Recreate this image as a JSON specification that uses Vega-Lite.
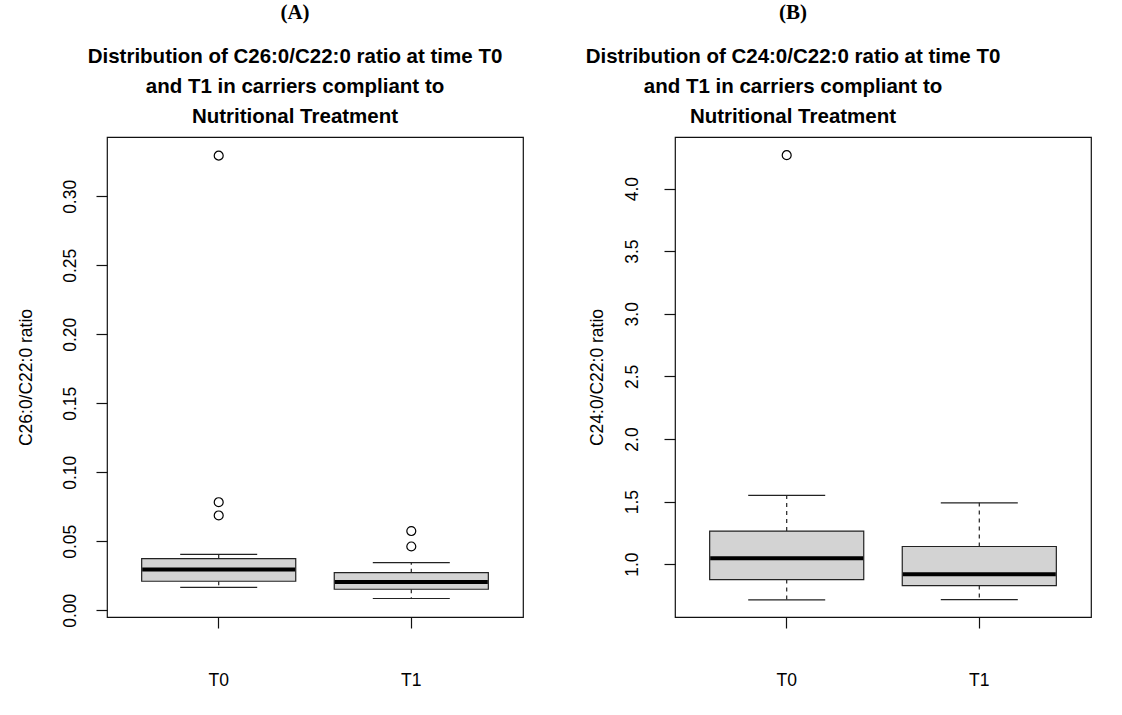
{
  "$schema": "https://vega.github.io/schema/vega-lite/v6.json",
  "background": "white",
  "padding": {"left": 16, "top": 0, "right": 5, "bottom": 5},
  "config": {
    "view": {"stroke": "#111", "strokeWidth": 1.2},
    "axis": {
      "labelFont": "Liberation Sans", "labelFontSize": 17.5, "labelColor": "black",
      "titleFont": "Liberation Sans", "titleFontSize": 17.5, "titleFontWeight": "normal", "titleColor": "black",
      "tickColor": "#111", "tickWidth": 1.2, "tickSize": 11, "domain": false, "grid": false
    }
  },
  "datasets": {
    "boxes": [
      {"panel": "A", "time": "T0", "lower": 0.0166, "q1": 0.021, "median": 0.0296, "q3": 0.0374, "upper": 0.0405},
      {"panel": "A", "time": "T1", "lower": 0.0085, "q1": 0.0152, "median": 0.0205, "q3": 0.0272, "upper": 0.0345},
      {"panel": "B", "time": "T0", "lower": 0.714, "q1": 0.877, "median": 1.048, "q3": 1.264, "upper": 1.549},
      {"panel": "B", "time": "T1", "lower": 0.717, "q1": 0.829, "median": 0.92, "q3": 1.141, "upper": 1.49}
    ],
    "outliers": [
      {"panel": "A", "time": "T0", "value": 0.3295},
      {"panel": "A", "time": "T0", "value": 0.0783},
      {"panel": "A", "time": "T0", "value": 0.0687},
      {"panel": "A", "time": "T1", "value": 0.0574},
      {"panel": "A", "time": "T1", "value": 0.0462},
      {"panel": "B", "time": "T0", "value": 4.267}
    ]
  },
  "spacing": 152,
  "bounds": "flush",
  "hconcat": [
    {
      "width": 416, "height": 480,
      "title": {
        "text": "(A)",
        "subtitle": ["Distribution of C26:0/C22:0 ratio at time T0", "and T1 in carriers compliant to", "Nutritional Treatment"],
        "font": "Liberation Serif", "fontSize": 21, "fontWeight": "bold", "color": "black",
        "subtitleFont": "Liberation Sans", "subtitleFontSize": 20.5, "subtitleFontWeight": "bold", "subtitleColor": "black",
        "subtitleLineHeight": 30, "subtitlePadding": 24, "offset": 10, "anchor": "middle", "dx": -20
      },
      "data": {"name": "boxes"},
      "transform": [{"filter": "datum.panel == 'A'"}],
      "encoding": {
        "x": {"field": "time", "type": "nominal", "title": null,
              "scale": {"paddingInner": 0.2, "paddingOuter": 0.18},
              "axis": {"labelAngle": 0, "labelPadding": 43}}
      },
      "layer": [
        {"mark": {"type": "rule", "strokeDash": [4, 4], "color": "#222", "strokeWidth": 1.2},
         "encoding": {"y": {"field": "q3", "type": "quantitative", "title": "C26:0/C22:0 ratio",
                            "scale": {"domain": [-0.0049, 0.343], "nice": false, "zero": false},
                            "axis": {"values": [0, 0.05, 0.1, 0.15, 0.2, 0.25, 0.3], "format": ".2f",
                                     "labelAngle": 270, "labelAlign": "center", "labelBaseline": "bottom",
                                     "labelPadding": 17, "titlePadding": 26}},
                      "y2": {"field": "upper"}}},
        {"mark": {"type": "rule", "strokeDash": [4, 4], "color": "#222", "strokeWidth": 1.2},
         "encoding": {"y": {"field": "q1", "type": "quantitative", "title": "C26:0/C22:0 ratio"}, "y2": {"field": "lower"}}},
        {"mark": {"type": "bar", "fill": "#D3D3D3", "stroke": "#222", "strokeWidth": 1.2},
         "encoding": {"y": {"field": "q1", "type": "quantitative", "title": "C26:0/C22:0 ratio"}, "y2": {"field": "q3"}}},
        {"mark": {"type": "tick", "size": 77, "thickness": 1.2, "color": "#222", "opacity": 1},
         "encoding": {"y": {"field": "upper", "type": "quantitative", "title": "C26:0/C22:0 ratio"}}},
        {"mark": {"type": "tick", "size": 77, "thickness": 1.2, "color": "#222", "opacity": 1},
         "encoding": {"y": {"field": "lower", "type": "quantitative", "title": "C26:0/C22:0 ratio"}}},
        {"mark": {"type": "tick", "size": 153, "thickness": 4, "color": "black", "opacity": 1},
         "encoding": {"y": {"field": "median", "type": "quantitative", "title": "C26:0/C22:0 ratio"}}},
        {"data": {"name": "outliers"},
         "transform": [{"filter": "datum.panel == 'A'"}],
         "mark": {"type": "point", "shape": "circle", "filled": false, "size": 80, "stroke": "black", "strokeWidth": 1.2, "opacity": 1},
         "encoding": {"y": {"field": "value", "type": "quantitative", "title": "C26:0/C22:0 ratio"}}}
      ]
    },
    {
      "width": 416, "height": 480,
      "title": {
        "text": "(B)",
        "subtitle": ["Distribution of C24:0/C22:0 ratio at time T0", "and T1 in carriers compliant to", "Nutritional Treatment"],
        "font": "Liberation Serif", "fontSize": 21, "fontWeight": "bold", "color": "black",
        "subtitleFont": "Liberation Sans", "subtitleFontSize": 20.5, "subtitleFontWeight": "bold", "subtitleColor": "black",
        "subtitleLineHeight": 30, "subtitlePadding": 24, "offset": 10, "anchor": "middle", "dx": -90
      },
      "data": {"name": "boxes"},
      "transform": [{"filter": "datum.panel == 'B'"}],
      "encoding": {
        "x": {"field": "time", "type": "nominal", "title": null,
              "scale": {"paddingInner": 0.2, "paddingOuter": 0.18},
              "axis": {"labelAngle": 0, "labelPadding": 43}}
      },
      "layer": [
        {"mark": {"type": "rule", "strokeDash": [4, 4], "color": "#222", "strokeWidth": 1.2},
         "encoding": {"y": {"field": "q3", "type": "quantitative", "title": "C24:0/C22:0 ratio",
                            "scale": {"domain": [0.578, 4.412], "nice": false, "zero": false},
                            "axis": {"values": [1, 1.5, 2, 2.5, 3, 3.5, 4], "format": ".1f",
                                     "labelAngle": 270, "labelAlign": "center", "labelBaseline": "bottom",
                                     "labelPadding": 23, "titlePadding": 17}},
                      "y2": {"field": "upper"}}},
        {"mark": {"type": "rule", "strokeDash": [4, 4], "color": "#222", "strokeWidth": 1.2},
         "encoding": {"y": {"field": "q1", "type": "quantitative", "title": "C24:0/C22:0 ratio"}, "y2": {"field": "lower"}}},
        {"mark": {"type": "bar", "fill": "#D3D3D3", "stroke": "#222", "strokeWidth": 1.2},
         "encoding": {"y": {"field": "q1", "type": "quantitative", "title": "C24:0/C22:0 ratio"}, "y2": {"field": "q3"}}},
        {"mark": {"type": "tick", "size": 77, "thickness": 1.2, "color": "#222", "opacity": 1},
         "encoding": {"y": {"field": "upper", "type": "quantitative", "title": "C24:0/C22:0 ratio"}}},
        {"mark": {"type": "tick", "size": 77, "thickness": 1.2, "color": "#222", "opacity": 1},
         "encoding": {"y": {"field": "lower", "type": "quantitative", "title": "C24:0/C22:0 ratio"}}},
        {"mark": {"type": "tick", "size": 153, "thickness": 4, "color": "black", "opacity": 1},
         "encoding": {"y": {"field": "median", "type": "quantitative", "title": "C24:0/C22:0 ratio"}}},
        {"data": {"name": "outliers"},
         "transform": [{"filter": "datum.panel == 'B'"}],
         "mark": {"type": "point", "shape": "circle", "filled": false, "size": 80, "stroke": "black", "strokeWidth": 1.2, "opacity": 1},
         "encoding": {"y": {"field": "value", "type": "quantitative", "title": "C24:0/C22:0 ratio"}}}
      ]
    }
  ]
}
